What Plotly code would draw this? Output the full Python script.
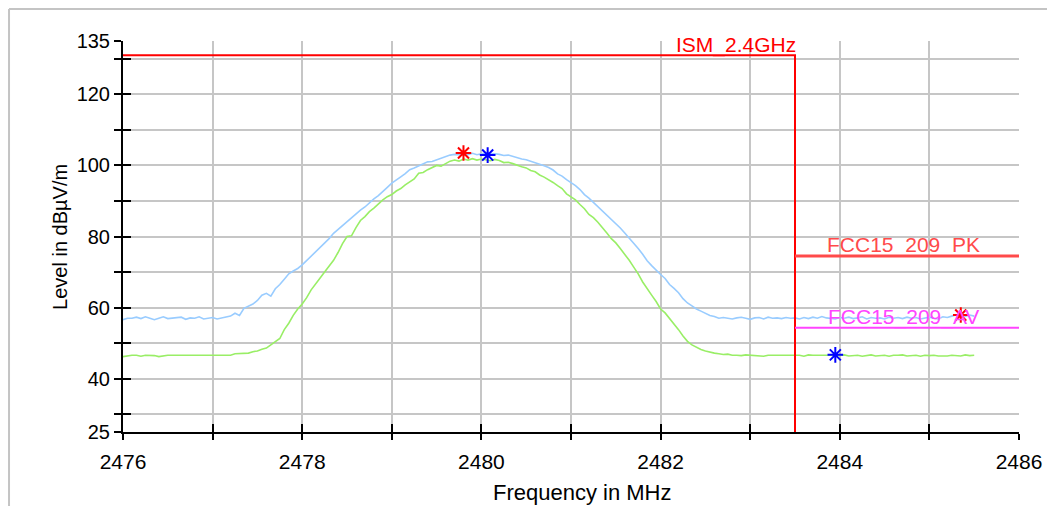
import numpy as np
import plotly.graph_objects as go

# Sweep frequencies (MHz), 0.05 MHz step from 2476.00 to 2485.50
freq = [round(2476 + 0.05 * i, 2) for i in range(191)]

peak_level = [
    56.6, 57.0, 57.0, 57.3, 56.9, 57.4, 57.0, 56.6, 57.0, 57.4,
    56.9, 57.0, 57.0, 57.3, 56.7, 57.1, 57.0, 57.4, 56.8, 57.0,
    57.2, 56.8, 57.1, 57.3, 57.6, 58.4, 57.8, 59.8, 60.4, 61.0,
    62.0, 63.5, 64.0, 63.2, 65.3, 66.5, 68.0, 69.5, 70.3, 71.0,
    72.0, 73.2, 74.4, 75.6, 76.8, 78.2, 79.4, 80.9, 82.0, 83.0,
    84.2, 85.4, 86.3, 87.4, 88.3, 89.5, 90.6, 91.5, 92.8, 93.8,
    95.0, 95.8, 96.8, 97.7, 98.8, 99.3, 99.8, 100.4, 101.0, 101.1,
    101.6, 102.0, 102.4, 102.9, 103.1, 103.0, 103.3, 103.0, 103.4, 103.0,
    103.3, 103.4, 103.2, 103.3, 103.1, 102.8, 102.9, 102.5, 102.3, 101.8,
    101.6, 101.2, 100.9, 100.5, 99.9, 99.4, 98.7, 97.6, 97.0, 96.0,
    95.2, 94.3, 93.2, 91.8, 90.8, 89.6, 88.6, 87.3, 86.0, 84.8,
    83.7, 82.4, 81.0, 79.6, 78.2, 76.6, 75.0, 73.2, 71.8, 70.4,
    69.3, 68.2, 66.5, 65.4, 64.2, 62.5, 61.3, 60.5, 59.6, 59.0,
    58.3, 57.8, 57.5, 57.0, 57.2, 57.0, 56.8, 57.1, 57.3, 57.0,
    56.7, 57.1, 57.2, 56.8, 57.3, 57.0, 57.1, 56.9, 57.2, 57.0,
    57.1, 56.8, 57.2, 56.9, 57.3, 57.0, 57.5, 57.1, 57.0, 56.8,
    57.2, 57.0, 57.3, 56.9, 57.1, 57.4, 56.8, 57.2, 57.0, 57.1,
    56.8, 57.3, 57.0, 57.2, 56.9, 57.3, 57.0, 57.2, 56.8, 57.1,
    57.3, 57.0, 56.8, 57.4, 57.2, 57.6, 58.0, 57.9, 57.5, 57.9,
    57.6,
]

avg_level = [
    46.2, 46.5, 46.6, 46.6, 46.3, 46.6, 46.6, 46.5, 46.2, 46.5,
    46.6, 46.6, 46.6, 46.6, 46.6, 46.6, 46.6, 46.6, 46.6, 46.6,
    46.6, 46.6, 46.6, 46.6, 46.6, 47.0, 47.1, 47.1, 47.2, 47.6,
    47.8, 48.3, 48.6, 49.5, 50.5, 51.3, 53.8, 55.6, 57.8, 59.6,
    61.0, 62.8, 65.0, 66.8, 68.3, 70.0, 71.5, 73.3, 75.5, 78.0,
    80.0, 80.2, 82.5, 84.5, 85.6, 87.0, 88.0, 89.2, 90.3, 91.2,
    91.8, 92.8, 93.5, 94.5, 95.3, 96.2, 97.8, 98.0, 98.8, 99.3,
    100.0, 99.8, 100.6, 101.2, 101.5, 101.2, 101.8, 101.5, 101.9, 101.5,
    101.8, 101.6, 101.3, 101.7, 101.4, 100.8, 100.9, 100.5, 100.0, 99.6,
    99.3, 98.6, 98.2, 97.3, 96.7, 96.0, 95.2, 94.3, 93.5, 92.0,
    91.2, 90.3, 89.0, 87.8, 86.2, 85.3, 84.0, 82.6, 81.0, 79.4,
    78.2, 76.6, 75.0, 73.3, 71.4, 69.5, 67.2, 65.5, 63.5, 61.7,
    59.6, 58.5, 57.0, 55.4, 53.8, 52.0, 50.5, 49.5, 48.8, 48.2,
    47.8, 47.4, 47.2, 47.0, 46.8, 46.9, 46.6, 46.6, 46.5, 46.7,
    46.6, 46.7, 46.6, 46.3, 46.6, 46.6, 46.7, 46.6, 46.6, 46.6,
    46.5, 46.6, 46.3, 46.7, 46.6, 46.6, 46.7, 46.5, 46.6, 46.4,
    46.6, 46.7, 46.4, 46.6, 46.6, 46.3, 46.6, 46.7, 46.4, 46.6,
    46.6, 46.3, 46.6, 46.6, 46.7, 46.4, 46.6, 46.6, 46.3, 46.6,
    46.5, 46.6, 46.4, 46.3, 46.4, 46.6, 46.5, 46.4, 46.7, 46.5,
    46.6,
]

# Limit lines
ism_freq = [2476.0, 2483.5, 2483.5]
ism_level = [131.0, 131.0, 25.0]
pk_freq = [2483.5, 2486.0]
pk_level = [74.5, 74.5]
av_freq = [2483.5, 2486.0]
av_level = [54.3, 54.3]

# Markers
red_mark_freq = [2479.80, 2485.35]
red_mark_level = [103.5, 57.9]
blue_mark_freq = [2480.07, 2483.95]
blue_mark_level = [102.9, 46.7]

# Axis ticks
x_tickvals = list(range(2476, 2487))
x_ticktext = [str(v) if (v - 2476) % 2 == 0 else "" for v in x_tickvals]
y_tickvals = [25, 30, 40, 50, 60, 70, 80, 90, 100, 110, 120, 130, 135]
y_labels = {25, 40, 60, 80, 100, 120, 135}
y_ticktext = [str(v) if v in y_labels else "" for v in y_tickvals]

FONT = "Liberation Sans, Arial, sans-serif"
XR = [2476, 2486]
YR = [25, 135]

fig = go.Figure()

fig.add_trace(go.Scatter(x=freq, y=peak_level, mode="lines",
                         line=dict(color="#99ccff", width=1.6),
                         hoverinfo="skip", showlegend=False))
fig.add_trace(go.Scatter(x=freq, y=avg_level, mode="lines",
                         line=dict(color="#99ee66", width=1.6),
                         hoverinfo="skip", showlegend=False))

fig.add_trace(go.Scatter(x=ism_freq, y=ism_level, mode="lines",
                         line=dict(color="#ff0000", width=2),
                         xaxis="x2", yaxis="y2", showlegend=False))
fig.add_trace(go.Scatter(x=pk_freq, y=pk_level, mode="lines",
                         line=dict(color="#ff4a4a", width=3),
                         xaxis="x2", yaxis="y2", showlegend=False))
fig.add_trace(go.Scatter(x=av_freq, y=av_level, mode="lines",
                         line=dict(color="#ff44ff", width=2),
                         xaxis="x2", yaxis="y2", showlegend=False))

fig.add_trace(go.Scatter(x=red_mark_freq, y=red_mark_level, mode="markers",
                         marker=dict(symbol="asterisk-open", size=13, color="#ff0000",
                                     line=dict(color="#ff0000", width=2)),
                         xaxis="x2", yaxis="y2", showlegend=False))
fig.add_trace(go.Scatter(x=blue_mark_freq, y=blue_mark_level, mode="markers",
                         marker=dict(symbol="asterisk-open", size=13, color="#0000ff",
                                     line=dict(color="#0000ff", width=2)),
                         xaxis="x2", yaxis="y2", showlegend=False))

grid_col = "#c6c6c6"
fig.update_layout(
    width=1047, height=498,
    margin=dict(l=115, r=36, t=33, b=74),
    paper_bgcolor="white", plot_bgcolor="white",
    font=dict(family=FONT, size=20, color="black"),
    showlegend=False,
    xaxis=dict(range=XR, tickvals=x_tickvals, ticktext=x_ticktext,
               showgrid=True, gridcolor=grid_col, gridwidth=2,
               showline=True, linecolor="black", linewidth=2,
               ticks="outside", ticklen=6, tickwidth=2, tickcolor="black",
               zeroline=False, tickfont=dict(size=21), ticklabelstandoff=4),
    yaxis=dict(range=YR, tickvals=y_tickvals, ticktext=y_ticktext,
               showgrid=True, gridcolor=grid_col, gridwidth=2,
               showline=True, linecolor="black", linewidth=2,
               ticks="outside", ticklen=7, tickwidth=2, tickcolor="black",
               zeroline=False, tickfont=dict(size=20)),
    xaxis2=dict(range=XR, overlaying="x", anchor="y2", tickvals=x_tickvals,
                showticklabels=False, showgrid=False, zeroline=False,
                showline=False, ticks="inside", ticklen=8, tickwidth=2,
                tickcolor="black"),
    yaxis2=dict(range=YR, overlaying="y", anchor="x2", tickvals=y_tickvals,
                showticklabels=False, showgrid=False, zeroline=False,
                showline=False, ticks="inside", ticklen=8, tickwidth=2,
                tickcolor="black"),
)

annos = [
    dict(text="Level in dBµV/m", xref="paper", yref="paper", x=-0.0703, y=0.499,
         textangle=-90, showarrow=False, font=dict(size=20), xanchor="center", yanchor="middle"),
    dict(text="Frequency in MHz", xref="paper", yref="paper", x=0.513, y=-0.155,
         showarrow=False, font=dict(size=22), xanchor="center", yanchor="middle"),
    dict(text="ISM_2.4GHz", xref="x2", yref="y2", x=2483.53, y=133.9,
         showarrow=False, font=dict(size=21, color="#ff0000"), xanchor="right", yanchor="middle"),
    dict(text="FCC15_209_PK", xref="x2", yref="y2", x=2484.71, y=77.6,
         showarrow=False, font=dict(size=21, color="#ff4a4a"), xanchor="center", yanchor="middle"),
    dict(text="FCC15_209_AV", xref="x2", yref="y2", x=2484.71, y=57.4,
         showarrow=False, font=dict(size=21, color="#ff44ff"), xanchor="center", yanchor="middle"),
]
fig.update_layout(annotations=annos)

# outer frame of the report image (top and left edges are visible)
fig.add_shape(type="line", xref="paper", yref="paper",
              x0=-0.1272, x1=1.1, y0=1.0818, y1=1.0818,
              line=dict(color="#c4c4c4", width=2), layer="above")
fig.add_shape(type="line", xref="paper", yref="paper",
              x0=-0.1272, x1=-0.1272, y0=-0.3, y1=1.0818,
              line=dict(color="#c4c4c4", width=2), layer="above")

fig.write_html("out.html")
